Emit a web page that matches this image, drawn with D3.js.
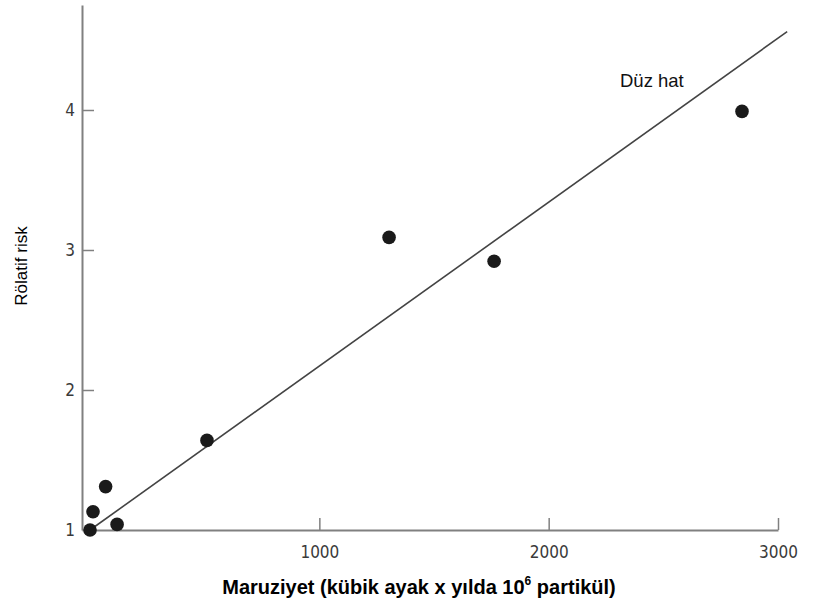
<!DOCTYPE html>
<html>
<head>
<meta charset="utf-8">
<script src="https://cdn.jsdelivr.net/npm/d3@7"></script>
<style>
  body { margin: 0; background: #fff; }
  svg text { font-family: "Liberation Sans", Arial, sans-serif; }
</style>
</head>
<body>
<div id="chart"></div>
<script>
// data
var exposure = [0, 13, 68, 118, 510, 1304, 1762, 2843];
var risk = [1.0, 1.13, 1.31, 1.04, 1.64, 3.09, 2.92, 3.99];
var fitLine = [[0, 1.0], [3040, 4.56]];
var xTicks = [1000, 2000, 3000];
var yTicks = [1, 2, 3, 4];

var width = 831, height = 602;

var svg = d3.select("#chart").append("svg")
    .attr("width", width)
    .attr("height", height);

var x = d3.scaleLinear().domain([-35, 3000]).range([82, 778]);
var y = d3.scaleLinear().domain([1, 4.75]).range([530, 5]);

// axes, ticks point inward
var xAxis = d3.axisBottom(x).tickValues(xTicks).tickFormat(d3.format("d"))
    .tickSizeInner(-12).tickSizeOuter(0).tickPadding(16);
var yAxis = d3.axisLeft(y).tickValues(yTicks).tickFormat(d3.format("d"))
    .tickSizeInner(-12).tickSizeOuter(0).tickPadding(7);

var gx = svg.append("g").attr("transform", "translate(0," + y(1) + ")").call(xAxis);
var gy = svg.append("g").attr("transform", "translate(" + x.range()[0] + ",0)").call(yAxis);

[gx, gy].forEach(function(g) {
    g.select(".domain").attr("stroke", "#808080").attr("stroke-width", 2);
    g.selectAll(".tick line").attr("stroke", "#808080").attr("stroke-width", 1.5);
    g.selectAll(".tick text")
        .attr("fill", "#3a3a3a")
        .style("font-family", "'Liberation Sans Narrow', 'DejaVu Sans Condensed', sans-serif")
        .style("font-stretch", "condensed")
        .style("font-size", "17px");
});
// no tick mark for the "1" at the corner
gy.selectAll(".tick").filter(function(d) { return d === 1; }).select("line").remove();

// straight line
svg.append("line")
    .attr("x1", x(fitLine[0][0])).attr("y1", y(fitLine[0][1]))
    .attr("x2", x(fitLine[1][0])).attr("y2", y(fitLine[1][1]))
    .attr("stroke", "#444")
    .attr("stroke-width", 1.6);

svg.append("text")
    .attr("x", 620).attr("y", 87)
    .attr("fill", "#111")
    .style("font-size", "18.5px")
    .text("Düz hat");

// points
svg.selectAll("circle.pt")
    .data(exposure)
    .enter().append("circle")
    .attr("class", "pt")
    .attr("cx", function(d) { return x(d); })
    .attr("cy", function(d, i) { return y(risk[i]); })
    .attr("r", 6.8)
    .attr("fill", "#1a1a1a");

// axis titles
svg.append("text")
    .attr("transform", "translate(27,266) rotate(-90)")
    .attr("text-anchor", "middle")
    .style("font-size", "17px")
    .text("Rölatif risk");

var xt = svg.append("text")
    .attr("x", 419).attr("y", 594)
    .attr("text-anchor", "middle")
    .style("font-size", "20px")
    .style("font-weight", "bold");
xt.append("tspan").text("Maruziyet (kübik ayak x yılda 10");
xt.append("tspan").attr("dy", -9).style("font-size", "12px").text("6");
xt.append("tspan").attr("dy", 9).text(" partikül)");
</script>
</body>
</html>
